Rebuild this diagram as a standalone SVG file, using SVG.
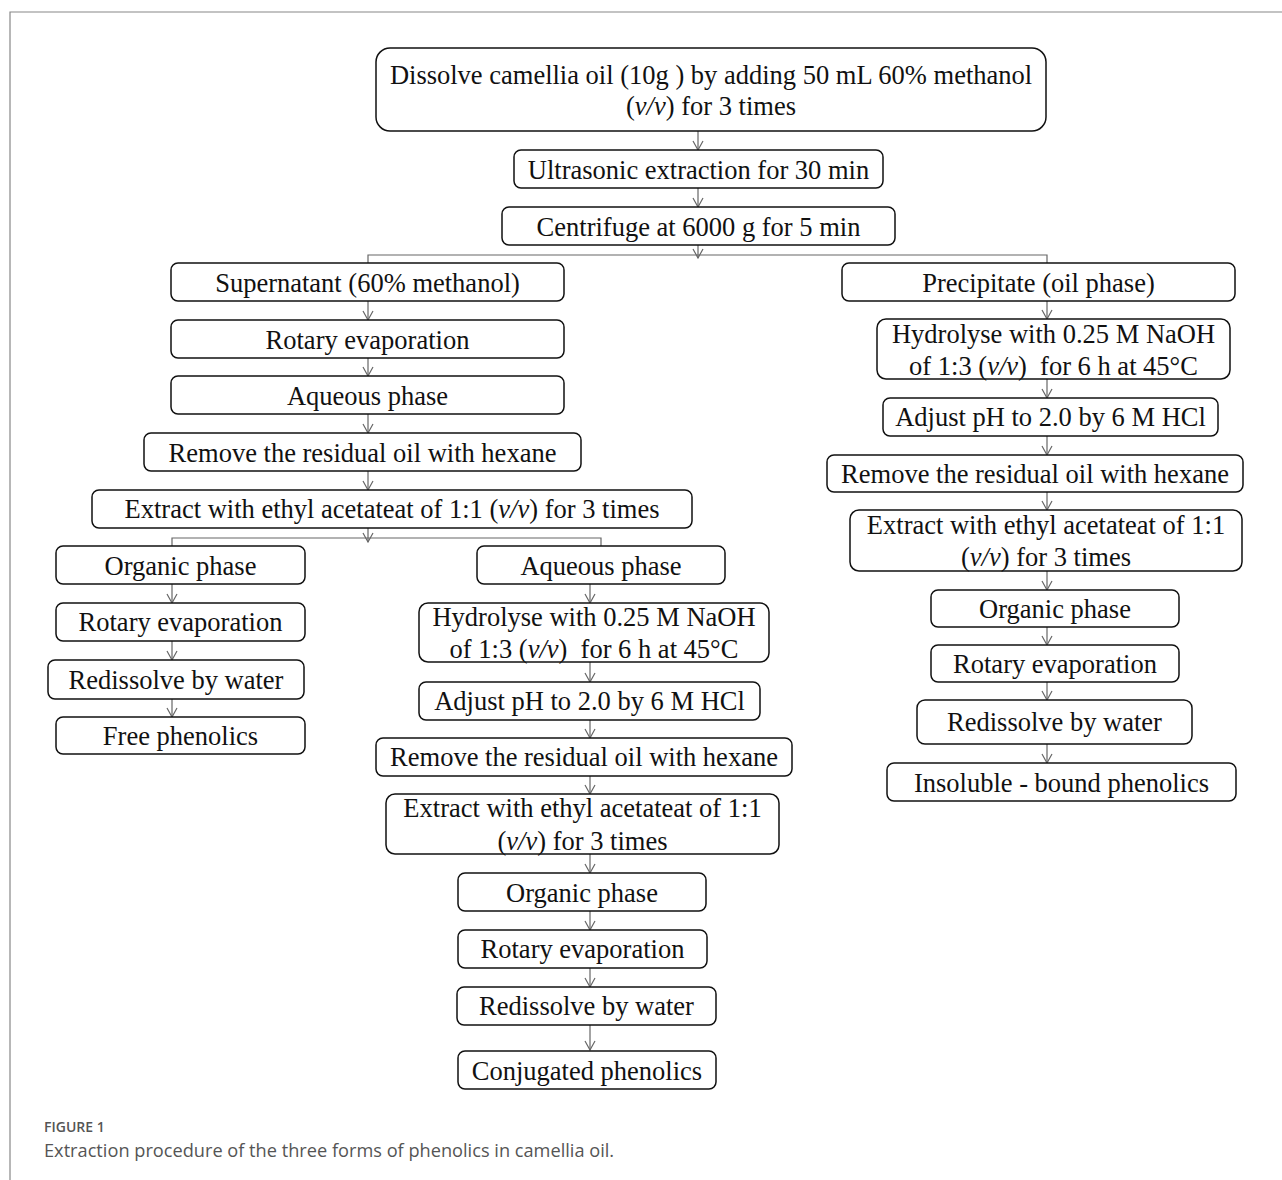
<svg xmlns="http://www.w3.org/2000/svg" width="1282" height="1180" viewBox="0 0 1282 1180">
<style>
.b{fill:#fff;stroke:#111;stroke-width:1.5}
.t{font-family:"Liberation Serif","Times New Roman",serif;font-size:26.5px;fill:#111;text-anchor:middle;white-space:pre}
.c{fill:none;stroke:#666;stroke-width:1.2}
.a{fill:none;stroke:#666;stroke-width:1.2;marker-end:url(#ah)}
.cap1{font-family:"Open Sans","Liberation Sans",sans-serif;font-size:14px;font-weight:600;fill:#555}
.cap2{font-family:"Open Sans","Liberation Sans",sans-serif;font-size:18.2px;fill:#555}
</style>
<defs>
<marker id="ah" viewBox="0 0 12 12" refX="11" refY="6" markerWidth="12" markerHeight="12" markerUnits="userSpaceOnUse" orient="auto">
<path d="M2,1 L11,6 L2,11" fill="none" stroke="#666" stroke-width="1.2"/>
</marker>
</defs>
<rect width="1282" height="1180" fill="#fff"/>
<path d="M10,1180 V12 H1282" fill="none" stroke="#888" stroke-width="1.2"/>

<g id="connectors">
<path class="a" d="M698,131 V150"/>
<path class="a" d="M698,188 V207"/>
<path class="a" d="M698,245 V258"/>
<path class="c" d="M368,263 V255 H1047 V263"/>
<path class="a" d="M368,301 V320"/>
<path class="a" d="M368,358 V376"/>
<path class="a" d="M368,414 V433"/>
<path class="a" d="M368,471 V490"/>
<path class="a" d="M368,528 V542"/>
<path class="c" d="M172,546 V538 H601 V546"/>
<path class="a" d="M172,584 V603"/>
<path class="a" d="M172,641 V660"/>
<path class="a" d="M172,699 V717"/>
<path class="a" d="M590,584 V603"/>
<path class="a" d="M590,662 V682"/>
<path class="a" d="M590,720 V738"/>
<path class="a" d="M590,776 V794"/>
<path class="a" d="M590,854 V873"/>
<path class="a" d="M590,911 V930"/>
<path class="a" d="M590,968 V987"/>
<path class="a" d="M590,1025 V1050"/>
<path class="a" d="M1047,301 V319"/>
<path class="a" d="M1047,379 V398"/>
<path class="a" d="M1047,436 V455"/>
<path class="a" d="M1047,492 V510"/>
<path class="a" d="M1047,571 V590"/>
<path class="a" d="M1047,627 V645"/>
<path class="a" d="M1047,682 V700"/>
<path class="a" d="M1047,744 V763"/>
</g>

<g id="n1"><rect class="b" x="376" y="48" width="670" height="83" rx="14"/>
<text class="t" x="711" y="84">Dissolve camellia oil (10g ) by adding 50 mL 60% methanol</text>
<text class="t" x="711" y="115">(<tspan font-style="italic">v/v</tspan>) for 3 times</text></g>
<g id="n2"><rect class="b" x="514" y="150" width="369" height="38" rx="7"/>
<text class="t" x="698.5" y="179">Ultrasonic extraction for 30 min</text></g>
<g id="n3"><rect class="b" x="502" y="207" width="393" height="38" rx="7"/>
<text class="t" x="698.5" y="236">Centrifuge at 6000 g for 5 min</text></g>

<g id="n4"><rect class="b" x="171" y="263" width="393" height="38" rx="7"/>
<text class="t" x="367.5" y="292">Supernatant (60% methanol)</text></g>
<g id="n5"><rect class="b" x="171" y="320" width="393" height="38" rx="7"/>
<text class="t" x="367.5" y="349">Rotary evaporation</text></g>
<g id="n6"><rect class="b" x="171" y="376" width="393" height="38" rx="7"/>
<text class="t" x="367.5" y="405">Aqueous phase</text></g>
<g id="n7"><rect class="b" x="144" y="433" width="437" height="38" rx="7"/>
<text class="t" x="362.5" y="462">Remove the residual oil with hexane</text></g>
<g id="n8"><rect class="b" x="92" y="490" width="600" height="38" rx="7"/>
<text class="t" x="392" y="518">Extract with ethyl acetateat of 1:1 (<tspan font-style="italic">v/v</tspan>) for 3 times</text></g>

<g id="n9"><rect class="b" x="56" y="546" width="249" height="38" rx="7"/>
<text class="t" x="180.5" y="575">Organic phase</text></g>
<g id="n10"><rect class="b" x="56" y="603" width="249" height="38" rx="7"/>
<text class="t" x="180.5" y="631">Rotary evaporation</text></g>
<g id="n11"><rect class="b" x="48" y="660" width="256" height="39" rx="7"/>
<text class="t" x="176" y="689">Redissolve by water</text></g>
<g id="n12"><rect class="b" x="56" y="717" width="249" height="37" rx="7"/>
<text class="t" x="180.5" y="745">Free phenolics</text></g>

<g id="n13"><rect class="b" x="477" y="546" width="248" height="38" rx="7"/>
<text class="t" x="601" y="575">Aqueous phase</text></g>
<g id="n14"><rect class="b" x="419" y="603" width="350" height="59" rx="9"/>
<text class="t" x="594" y="626">Hydrolyse with 0.25 M NaOH</text>
<text class="t" x="594" y="658">of 1:3 (<tspan font-style="italic">v/v</tspan>)  for 6 h at 45°C</text></g>
<g id="n15"><rect class="b" x="419" y="682" width="341" height="38" rx="7"/>
<text class="t" x="589.5" y="710">Adjust pH to 2.0 by 6 M HCl</text></g>
<g id="n16"><rect class="b" x="376" y="738" width="416" height="38" rx="7"/>
<text class="t" x="584" y="766">Remove the residual oil with hexane</text></g>
<g id="n17"><rect class="b" x="386" y="794" width="393" height="60" rx="9"/>
<text class="t" x="582.5" y="817">Extract with ethyl acetateat of 1:1</text>
<text class="t" x="582.5" y="850">(<tspan font-style="italic">v/v</tspan>) for 3 times</text></g>
<g id="n18"><rect class="b" x="458" y="873" width="248" height="38" rx="7"/>
<text class="t" x="582" y="902">Organic phase</text></g>
<g id="n19"><rect class="b" x="458" y="930" width="249" height="38" rx="7"/>
<text class="t" x="582.5" y="958">Rotary evaporation</text></g>
<g id="n20"><rect class="b" x="457" y="987" width="259" height="38" rx="7"/>
<text class="t" x="586.5" y="1015">Redissolve by water</text></g>
<g id="n21"><rect class="b" x="458" y="1051" width="258" height="38" rx="7"/>
<text class="t" x="587" y="1080">Conjugated phenolics</text></g>

<g id="n22"><rect class="b" x="842" y="263" width="393" height="38" rx="7"/>
<text class="t" x="1038.5" y="292">Precipitate (oil phase)</text></g>
<g id="n23"><rect class="b" x="877" y="319" width="353" height="60" rx="9"/>
<text class="t" x="1053.5" y="343">Hydrolyse with 0.25 M NaOH</text>
<text class="t" x="1053.5" y="375">of 1:3 (<tspan font-style="italic">v/v</tspan>)  for 6 h at 45°C</text></g>
<g id="n24"><rect class="b" x="883" y="398" width="335" height="38" rx="7"/>
<text class="t" x="1050.5" y="426">Adjust pH to 2.0 by 6 M HCl</text></g>
<g id="n25"><rect class="b" x="827" y="455" width="416" height="37" rx="7"/>
<text class="t" x="1035" y="483">Remove the residual oil with hexane</text></g>
<g id="n26"><rect class="b" x="850" y="510" width="392" height="61" rx="9"/>
<text class="t" x="1046" y="534">Extract with ethyl acetateat of 1:1</text>
<text class="t" x="1046" y="566">(<tspan font-style="italic">v/v</tspan>) for 3 times</text></g>
<g id="n27"><rect class="b" x="931" y="590" width="248" height="37" rx="7"/>
<text class="t" x="1055" y="618">Organic phase</text></g>
<g id="n28"><rect class="b" x="931" y="645" width="248" height="37" rx="7"/>
<text class="t" x="1055" y="673">Rotary evaporation</text></g>
<g id="n29"><rect class="b" x="917" y="700" width="275" height="44" rx="8"/>
<text class="t" x="1054.5" y="731">Redissolve by water</text></g>
<g id="n30"><rect class="b" x="887" y="763" width="349" height="38" rx="7"/>
<text class="t" x="1061.5" y="792">Insoluble - bound phenolics</text></g>

<text class="cap1" x="44" y="1132">FIGURE 1</text>
<text class="cap2" x="44" y="1157">Extraction procedure of the three forms of phenolics in camellia oil.</text>
</svg>
